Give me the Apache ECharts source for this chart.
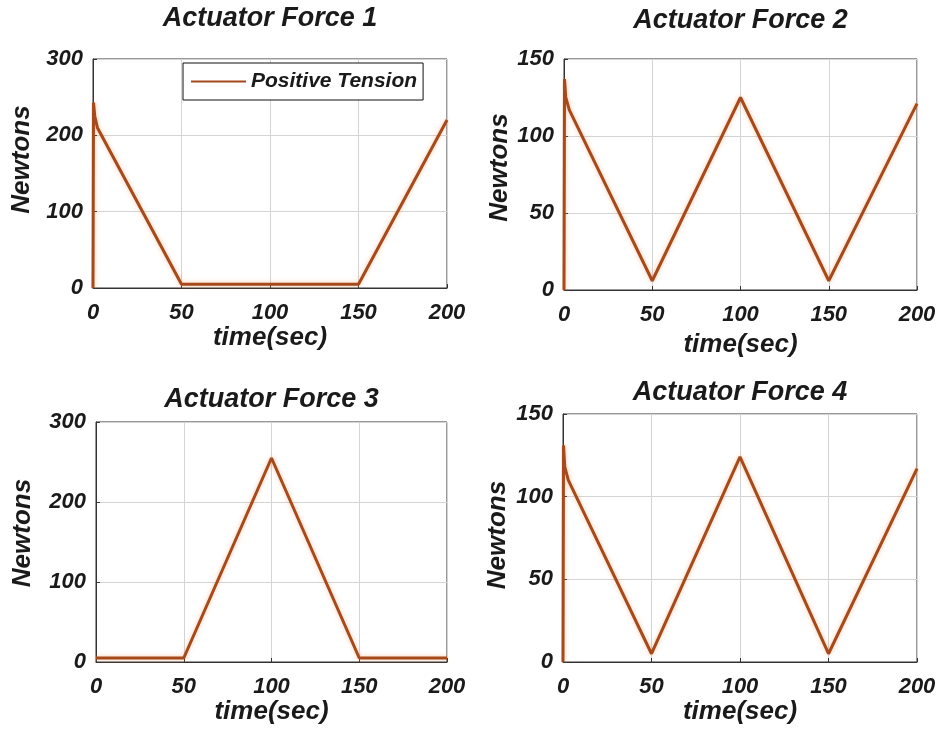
<!DOCTYPE html>
<html>
<head>
<meta charset="utf-8">
<script src="https://cdn.jsdelivr.net/npm/echarts@6/dist/echarts.min.js"></script>
<style>
html,body{margin:0;padding:0;background:#fff;}
#c{width:942px;height:737px;}
</style>
</head>
<body>
<div id="c"></div>
<script>
// ---- data ----
const titles = ['Actuator Force 1', 'Actuator Force 2', 'Actuator Force 3', 'Actuator Force 4'];
const xTicks = [0, 50, 100, 150, 200];
const yMax = [300, 150, 300, 150];
const yStep = [100, 50, 100, 50];
const legendName = 'Positive Tension';

const f1Time = [0, 0.3, 1, 2.5, 50, 150, 200];
const f1Val  = [0, 243, 225, 210, 5, 5, 220];
const f2Time = [0, 0.3, 1, 3, 50, 100, 150, 200];
const f2Val  = [0, 137, 125, 117, 6, 125, 6, 121];
const f3Time = [0, 50, 100, 150, 200];
const f3Val  = [5, 5, 255, 5, 5];
const f4Time = [0, 0.3, 1, 3, 50, 100, 150, 200];
const f4Val  = [0, 131, 118, 110, 5, 124, 5, 117];

const seriesTimes = [f1Time, f2Time, f3Time, f4Time];
const seriesVals = [f1Val, f2Val, f3Val, f4Val];

// ---- layout ----
const grids = [
  {left: 93, top: 59, width: 354, height: 229},
  {left: 564, top: 59, width: 353, height: 231},
  {left: 96, top: 422, width: 351, height: 240},
  {left: 563, top: 414, width: 354, height: 248}
];
const titleTop = [5, 7, 386, 379];
const xNameGap = [28, 42, 19, 19];
const yNameGap = [58, 51, 60, 52];
const yNameShift = [28, 14, 18, 6];
const FONT = '"Liberation Sans", Arial, sans-serif';
const txt = '#1a1a1a';
const lineColor = '#A64A1D';

const option = {
  animation: false,
  backgroundColor: '#fff',
  title: titles.map((t, i) => ({
    text: t,
    left: grids[i].left + grids[i].width / 2,
    textAlign: 'center',
    top: titleTop[i],
    padding: 0,
    textStyle: {fontFamily: FONT, fontSize: 27, fontWeight: 'bold', fontStyle: 'italic', color: txt}
  })),
  legend: {
    data: [legendName],
    left: 183, top: 63,
    orient: 'vertical',
    backgroundColor: '#fff',
    borderColor: '#111', borderWidth: 1, borderRadius: 0,
    padding: [8, 6, 8, 7],
    itemWidth: 55, itemHeight: 14, itemGap: 6,
    itemStyle: {opacity: 0},
    textStyle: {fontFamily: FONT, fontSize: 21, fontWeight: 'bold', fontStyle: 'italic', color: txt}
  },
  grid: grids.map(g => Object.assign({show: true, borderColor: '#333', borderWidth: 1, backgroundColor: '#fff'}, g)),
  xAxis: grids.map((g, i) => ({
    type: 'value', gridIndex: i, min: xTicks[0], max: xTicks[xTicks.length - 1], interval: 50,
    name: 'time(sec)', nameLocation: 'middle', nameGap: xNameGap[i],
    nameTextStyle: {fontFamily: FONT, fontSize: 26, fontWeight: 'bold', fontStyle: 'italic', color: txt},
    axisLine: {show: true, lineStyle: {color: '#333'}},
    axisTick: {show: true, inside: true, length: 4, lineStyle: {color: '#333'}},
    axisLabel: {fontFamily: FONT, fontSize: 22, fontWeight: 'bold', fontStyle: 'italic', color: txt, margin: 14},
    splitLine: {show: true, lineStyle: {color: '#d4d4d4', width: 1}}
  })),
  yAxis: grids.map((g, i) => ({
    type: 'value', gridIndex: i, min: 0, max: yMax[i], interval: yStep[i],
    name: 'Newtons', nameLocation: 'middle', nameGap: yNameGap[i],
    nameTextStyle: {fontFamily: FONT, fontSize: 26, fontWeight: 'bold', fontStyle: 'italic', color: txt,
                    padding: [0, 0, 0, yNameShift[i]]},
    axisLine: {show: true, lineStyle: {color: '#333'}},
    axisTick: {show: true, inside: true, length: 4, lineStyle: {color: '#333'}},
    axisLabel: {fontFamily: FONT, fontSize: 22, fontWeight: 'bold', fontStyle: 'italic', color: txt, margin: 10},
    splitLine: {show: true, lineStyle: {color: '#d4d4d4', width: 1}}
  })),
  series: seriesVals.map((vals, i) => ({
    type: 'line',
    name: i === 0 ? legendName : 'Force ' + (i + 1),
    xAxisIndex: i, yAxisIndex: i,
    data: vals.map((v, k) => [seriesTimes[i][k], v]),
    symbol: 'none',
    clip: true,
    lineStyle: {color: lineColor, width: 3, shadowColor: 'rgba(245,150,80,0.55)', shadowBlur: 4},
    itemStyle: {color: lineColor}
  }))
};

const chart = echarts.init(document.getElementById('c'), null, {renderer: 'canvas'});
chart.setOption(option);
</script>
</body>
</html>
